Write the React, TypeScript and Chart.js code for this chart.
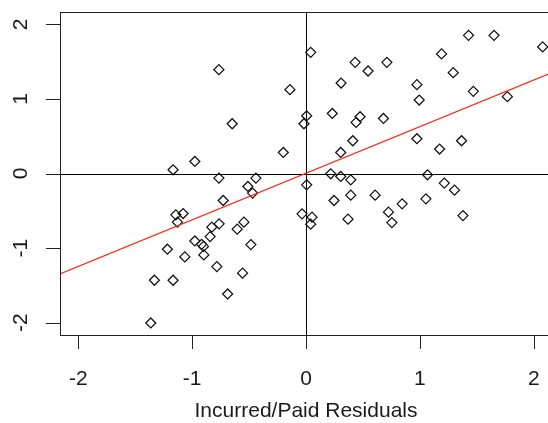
import React, { useEffect, useRef } from "react";
import { Chart, registerables } from "chart.js";

Chart.register(...registerables);

// Scatter data: Incurred/Paid residuals (x) vs other residuals (y)
const residX: number[] = [
  -0.765, -0.141, -0.648, 0.006, -0.018, -0.199, -0.976, -1.167, 0.041, -0.765,
  -0.44, 0.431, 0.71, 0.545, 0.308, 0.231, 0.475, 0.44, 0.68, 0.411,
  0.305, 0.217, 0.974, 0.994, 0.974, 1.173, 1.366, 1.19, 1.293, 1.427,
  1.651, 1.469, 1.768, 2.078, 1.067, 0.305, 0.393, 1.214, 1.304, 0.246,
  0.393, 0.607, 0.844, 1.053, 0.724, 0.754, 1.378, 0.369, -0.035, 0.053,
  0.041, 0.006, -0.51, -0.469, -0.727, -1.143, -1.079, -1.129, -0.763, -0.827,
  -0.545, -0.604, -0.842, -0.976, -0.917, -0.9, -0.897, -0.484, -1.217, -1.064,
  -0.783, -0.557, -1.331, -1.167, -0.688, -1.363,
];
const residY: number[] = [
  1.392, 1.124, 0.667, 0.774, 0.667, 0.282, 0.161, 0.05, 1.624, -0.062,
  -0.062, 1.49, 1.49, 1.374, 1.213, 0.805, 0.761, 0.685, 0.738, 0.439,
  0.282, -0.004, 1.191, 0.985, 0.466, 0.328, 0.439, 1.603, 1.352, 1.852,
  1.852, 1.101, 1.03, 1.697, -0.017, -0.04, -0.085, -0.129, -0.223, -0.362,
  -0.29, -0.29, -0.407, -0.34, -0.518, -0.658, -0.564, -0.612, -0.541, -0.585,
  -0.679, -0.152, -0.174, -0.263, -0.362, -0.554, -0.537, -0.652, -0.675, -0.719,
  -0.652, -0.746, -0.846, -0.904, -0.95, -0.977, -1.091, -0.953, -1.015, -1.118,
  -1.248, -1.336, -1.431, -1.431, -1.615, -2.004,
];

// Fitted regression line end points
const regX: number[] = [-2.16, 2.16];
const regY: number[] = [-1.347, 1.353];

// Axis ticks
const xTicks: number[] = [-2, -1, 0, 1, 2];
const yTicks: number[] = [-2, -1, 0, 1, 2];
const xTickLabels: string[] = ["-2", "-1", "0", "1", "2"];
const yTickLabels: string[] = ["-2", "-1", "0", "1", "2"];
const xTitle = "Incurred/Paid Residuals";

const FONT = "21px 'Liberation Sans', Arial, sans-serif";
const INK = "#1a1a1a";

const rPlot = {
  id: "rPlot",
  beforeDatasetsDraw(chart: any) {
    const { ctx, chartArea: a, scales } = chart;
    const xs = scales.x;
    const ys = scales.y;
    ctx.save();
    ctx.strokeStyle = "#000";
    ctx.lineWidth = 1;
    const zx = Math.round(xs.getPixelForValue(0)) + 0.5;
    const zy = Math.round(ys.getPixelForValue(0)) + 0.5;
    ctx.beginPath();
    ctx.moveTo(zx, a.top);
    ctx.lineTo(zx, a.bottom);
    ctx.moveTo(a.left, zy);
    ctx.lineTo(a.right, zy);
    ctx.stroke();
    ctx.restore();
  },
  afterDraw(chart: any) {
    const { ctx, chartArea: a, scales } = chart;
    const xs = scales.x;
    const ys = scales.y;
    ctx.save();
    ctx.strokeStyle = "#222";
    ctx.lineWidth = 1;
    // box
    ctx.strokeRect(
      Math.round(a.left) + 0.5,
      Math.round(a.top) + 0.5,
      Math.round(a.right - a.left),
      Math.round(a.bottom - a.top)
    );
    // ticks
    ctx.beginPath();
    xTicks.forEach((v) => {
      const px = Math.round(xs.getPixelForValue(v)) + 0.5;
      ctx.moveTo(px, Math.round(a.bottom));
      ctx.lineTo(px, Math.round(a.bottom) + 14);
    });
    yTicks.forEach((v) => {
      const py = Math.round(ys.getPixelForValue(v)) + 0.5;
      ctx.moveTo(Math.round(a.left) - 14, py);
      ctx.lineTo(Math.round(a.left), py);
    });
    ctx.stroke();
    // labels
    ctx.fillStyle = INK;
    ctx.font = FONT;
    ctx.textAlign = "center";
    ctx.textBaseline = "middle";
    xTicks.forEach((v, i) => {
      ctx.fillText(xTickLabels[i], xs.getPixelForValue(v), 379);
    });
    yTicks.forEach((v, i) => {
      ctx.save();
      ctx.translate(21, ys.getPixelForValue(v));
      ctx.rotate(-Math.PI / 2);
      ctx.fillText(yTickLabels[i], 0, 0);
      ctx.restore();
    });
    ctx.fillText(xTitle, (a.left + a.right) / 2, 411);
    ctx.restore();
  },
};

export default function App() {
  const ref = useRef<HTMLCanvasElement | null>(null);
  useEffect(() => {
    if (!ref.current) return;
    const chart = new Chart(ref.current, {
      type: "scatter",
      data: {
        datasets: [
          {
            label: "fit",
            data: regX.map((x, i) => ({ x, y: regY[i] })),
            showLine: true,
            borderColor: "#ff2a1a",
            borderWidth: 1.2,
            pointRadius: 0,
            fill: false,
          },
          {
            label: "residuals",
            data: residX.map((x, i) => ({ x, y: residY[i] })),
            pointStyle: "rectRot",
            pointRadius: 5,
            borderColor: "#111",
            backgroundColor: "rgba(0,0,0,0)",
            borderWidth: 1.25,
          },
        ],
      },
      options: {
        responsive: false,
        animation: false,
        devicePixelRatio: 1,
        layout: { padding: { left: 60, top: 12, right: 8, bottom: 88 } },
        plugins: {
          legend: { display: false },
          tooltip: { enabled: false },
        },
        scales: {
          x: { type: "linear", min: -2.16, max: 2.16, display: false },
          y: { type: "linear", min: -2.165, max: 2.165, display: false },
        },
      },
      plugins: [rPlot],
    });
    return () => chart.destroy();
  }, []);
  return (
    <div
      style={{
        position: "absolute",
        left: 0,
        top: 0,
        width: 548,
        height: 423,
        overflow: "hidden",
        background: "#fff",
      }}
    >
      <canvas ref={ref} width={560} height={423} style={{ width: 560, height: 423, display: "block" }} />
    </div>
  );
}
